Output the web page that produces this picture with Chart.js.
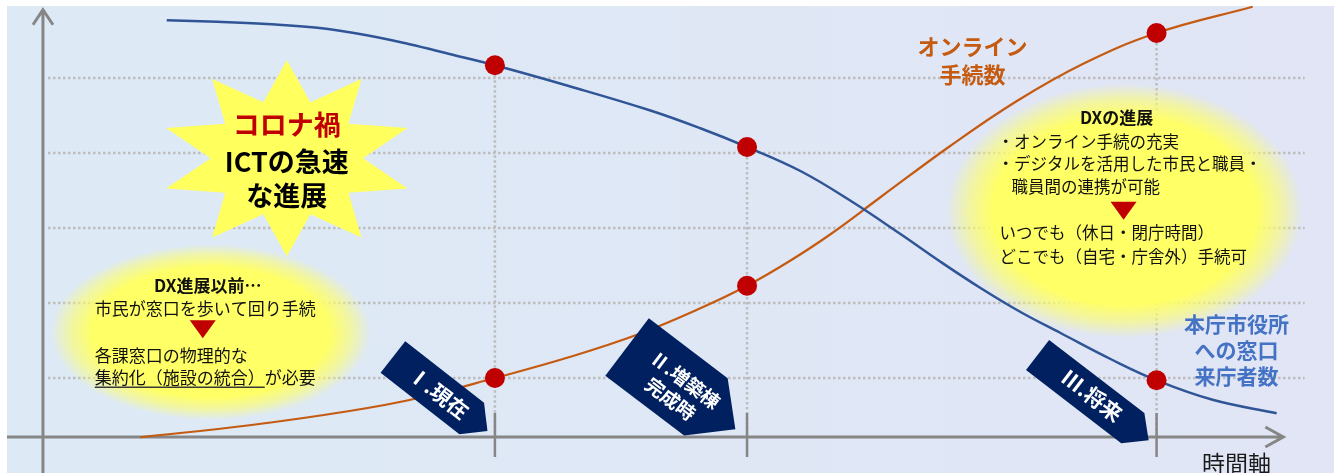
<!DOCTYPE html>
<html lang="ja">
<head>
<meta charset="utf-8">
<title>DX進展と窓口来庁者数</title>
<script src="https://cdn.jsdelivr.net/npm/chart.js@4.4.1/dist/chart.umd.min.js"></script>
<style>
  html, body { margin: 0; padding: 0; background: #fff; }
  #wrap { width: 1334px; height: 473px; position: relative; }
</style>
</head>
<body>
<div id="wrap"><canvas id="myChart"></canvas></div>
<script>
// 本庁市役所への窓口来庁者数 (blue curve)
const visitorTime  = [12.5, 16.3, 20.0, 23.8, 27.5, 30.7, 33.7, 37.1, 42.7, 48.7, 52.5, 56.0, 60.0, 63.7, 67.5, 70.5, 73.5, 76.5, 79.5, 83.4, 86.7, 90.9, 95.7];
const visitorValue = [5.77, 5.75, 5.72, 5.67, 5.57, 5.45, 5.32, 5.17, 4.89, 4.57, 4.33, 4.08, 3.76, 3.37, 2.92, 2.55, 2.20, 1.88, 1.60, 1.24, 0.97, 0.71, 0.53];

// オンライン手続数 (orange curve)
const onlineTime  = [10.5, 18.7, 26.2, 31.3, 37.1, 42.7, 47.8, 52.5, 56.0, 59.2, 62.2, 66.0, 71.2, 76.2, 81.2, 86.7, 93.9];
const onlineValue = [0.21, 0.37, 0.56, 0.73, 1.00, 1.28, 1.58, 1.93, 2.23, 2.56, 2.91, 3.41, 4.09, 4.69, 5.19, 5.60, 5.95];

// milestones on the time axis
const stageTime    = [37.1, 56.0, 86.7];
const stageVisitor = [5.17, 4.08, 0.97];
const stageOnline  = [1.00, 2.23, 5.60];
const stageLabels  = [["Ⅰ.現在"], ["Ⅱ.増築棟", "完成時"], ["Ⅲ.将来"]];

const gridValues = [1, 2, 3, 4, 5];
const axisTitle = "時間軸";

const FONT = '"Noto Sans CJK JP", "Noto Sans", sans-serif';

// layout of the decorations (data coords for anchors, px for sizes)
const layout = {
  axisTime: 3.22, axisValue: 0.213,
  gridFrom: 3.6, gridTo: 97.8,
  xArrowTime: 96.2, yArrowValue: 5.91,
  star: { t: 21.5, v: 3.93, rx: 127, ry: 98 },
  leftBubble: { t: 15.8, v: 1.61, rx: 160, ry: 88 },
  rightBubble: { t: 84.3, v: 3.23, rx: 178, ry: 127 },
  onlineLabel: { t: 72.9, v: 5.23 },
  visitorLabel: { t: 92.7, v: 1.37 },
  axisTitle: { t: 92.7, v: -0.14 },
  // tag arrows: back-edge centre offset from the tick foot, angle, body length, point, width
  tags: [
    { dx: -102, dy: -80, ang: 38, L: 100, p: 20, w: 40, size: 21, v: [0] },
    { dx: -120, dy: -90, ang: 37.2, L: 99, p: 37, w: 72, size: 19, v: [-9, 15] },
    { dx: -119, dy: -82, ang: 37.5, L: 120, p: 20, w: 38, size: 21, v: [-1] }
  ]
};

function toPts(xs, ys) {
  return xs.map((x, i) => ({ x: x, y: ys[i] }));
}

function glow(ctx, cx, cy, rx, ry) {
  ctx.save();
  ctx.translate(cx, cy);
  ctx.scale(rx / ry, 1);
  const g = ctx.createRadialGradient(0, 0, 0, 0, 0, ry);
  g.addColorStop(0, 'rgba(255,255,102,1)');
  g.addColorStop(0.74, 'rgba(255,255,102,1)');
  g.addColorStop(0.88, 'rgba(255,255,102,0.55)');
  g.addColorStop(1, 'rgba(255,255,102,0)');
  ctx.fillStyle = g;
  ctx.beginPath();
  ctx.arc(0, 0, ry, 0, Math.PI * 2);
  ctx.fill();
  ctx.restore();
}

function redTriangle(ctx, cx, cy) {
  ctx.fillStyle = '#C00000';
  ctx.beginPath();
  ctx.moveTo(cx - 13, cy - 9);
  ctx.lineTo(cx + 13, cy - 9);
  ctx.lineTo(cx, cy + 9);
  ctx.closePath();
  ctx.fill();
}

function dotted(ctx, x1, y1, x2, y2) {
  ctx.save();
  ctx.strokeStyle = '#BDBDBD';
  ctx.lineWidth = 2.5;
  ctx.setLineDash([2.5, 2.5]);
  ctx.beginPath();
  ctx.moveTo(x1, y1);
  ctx.lineTo(x2, y2);
  ctx.stroke();
  ctx.restore();
}

const decorPlugin = {
  id: 'decor',
  beforeDraw(chart) {
    const ctx = chart.ctx;
    const w = chart.width, h = chart.height;
    ctx.save();
    ctx.fillStyle = '#ffffff';
    ctx.fillRect(0, 0, w, h);
    const g = ctx.createLinearGradient(7, 0, w, 0);
    g.addColorStop(0, '#DDEAF6');
    g.addColorStop(1, '#E1E5F5');
    ctx.fillStyle = g;
    ctx.fillRect(7, 6, w - 7, h - 6);
    ctx.restore();
  },
  beforeDatasetsDraw(chart) {
    const ctx = chart.ctx;
    const xs = chart.scales.x, ys = chart.scales.y;
    const ox = xs.getPixelForValue(layout.axisTime);
    const oy = ys.getPixelForValue(layout.axisValue);

    // horizontal dotted grid
    gridValues.forEach(v => {
      const y = ys.getPixelForValue(v);
      dotted(ctx, xs.getPixelForValue(layout.gridFrom), y, xs.getPixelForValue(layout.gridTo), y);
    });
    // vertical dotted drop lines
    stageTime.forEach((t, i) => {
      const x = xs.getPixelForValue(t);
      const top = ys.getPixelForValue(Math.max(stageVisitor[i], stageOnline[i]));
      dotted(ctx, x, top, x, oy);
    });

    // glowing bubbles
    const lb = layout.leftBubble, rb = layout.rightBubble;
    glow(ctx, xs.getPixelForValue(lb.t), ys.getPixelForValue(lb.v), lb.rx, lb.ry);
    glow(ctx, xs.getPixelForValue(rb.t), ys.getPixelForValue(rb.v), rb.rx, rb.ry);

    // starburst
    const st = layout.star;
    const sx = xs.getPixelForValue(st.t), sy = ys.getPixelForValue(st.v);
    ctx.save();
    ctx.fillStyle = '#FFFF5E';
    ctx.beginPath();
    for (let i = 0; i < 20; i++) {
      const a = -Math.PI / 2 + i * Math.PI / 10;
      const r = i % 2 === 0 ? 1 : 0.6;
      ctx.lineTo(sx + Math.cos(a) * st.rx * r, sy + Math.sin(a) * st.ry * r);
    }
    ctx.closePath();
    ctx.fill();
    ctx.restore();

    // axes
    ctx.save();
    ctx.strokeStyle = '#868686';
    ctx.lineWidth = 3;
    ctx.beginPath();
    ctx.moveTo(7, oy);
    const xEnd = xs.getPixelForValue(layout.xArrowTime);
    ctx.lineTo(xEnd, oy);
    ctx.moveTo(xEnd - 18, oy - 10);
    ctx.lineTo(xEnd, oy);
    ctx.lineTo(xEnd - 18, oy + 10);
    const yEnd = ys.getPixelForValue(layout.yArrowValue);
    ctx.moveTo(ox, chart.height);
    ctx.lineTo(ox, yEnd);
    ctx.moveTo(ox - 10, yEnd + 15);
    ctx.lineTo(ox, yEnd);
    ctx.lineTo(ox + 10, yEnd + 15);
    ctx.stroke();
    // ticks
    ctx.lineWidth = 2.5;
    ctx.beginPath();
    stageTime.forEach(t => {
      const x = xs.getPixelForValue(t);
      ctx.moveTo(x, oy - 24);
      ctx.lineTo(x, oy + 20);
    });
    ctx.stroke();
    ctx.restore();
  },
  afterDatasetsDraw(chart) {
    const ctx = chart.ctx;
    const xs = chart.scales.x, ys = chart.scales.y;
    const oy = ys.getPixelForValue(layout.axisValue);
    ctx.save();
    ctx.textAlign = 'center';
    ctx.textBaseline = 'middle';

    // tag arrows
    stageTime.forEach((t, i) => {
      const tg = layout.tags[i];
      const x = xs.getPixelForValue(t) + tg.dx;
      const y = oy + tg.dy;
      ctx.save();
      ctx.translate(x, y);
      ctx.rotate(tg.ang * Math.PI / 180);
      ctx.fillStyle = '#002060';
      ctx.beginPath();
      ctx.moveTo(0, -tg.w / 2);
      ctx.lineTo(tg.L, -tg.w / 2);
      ctx.lineTo(tg.L + tg.p, 0);
      ctx.lineTo(tg.L, tg.w / 2);
      ctx.lineTo(0, tg.w / 2);
      ctx.closePath();
      ctx.fill();
      ctx.fillStyle = '#ffffff';
      ctx.font = 'bold ' + tg.size + 'px ' + FONT;
      stageLabels[i].forEach((line, k) => {
        ctx.fillText(line, (tg.L + tg.p) / 2 - 2, tg.v[k]);
      });
      ctx.restore();
    });

    // star text
    const st = layout.star;
    const sx = xs.getPixelForValue(st.t), sy = ys.getPixelForValue(st.v);
    ctx.font = 'bold 27px ' + FONT;
    ctx.fillStyle = '#C00000';
    ctx.fillText('コロナ禍', sx, sy - 34);
    ctx.fillStyle = '#000000';
    ctx.fillText('ICTの急速', sx, sy + 3);
    ctx.fillText('な進展', sx, sy + 37);

    // series labels
    const ol = layout.onlineLabel;
    ctx.font = 'bold 22px ' + FONT;
    ctx.fillStyle = '#C55A11';
    ctx.fillText('オンライン', xs.getPixelForValue(ol.t), ys.getPixelForValue(ol.v) - 14);
    ctx.fillText('手続数', xs.getPixelForValue(ol.t), ys.getPixelForValue(ol.v) + 14);
    const vl = layout.visitorLabel;
    ctx.fillStyle = '#4472C4';
    ctx.font = 'bold 21px ' + FONT;
    ['本庁市役所', 'への窓口', '来庁者数'].forEach((s, k) => {
      ctx.fillText(s, xs.getPixelForValue(vl.t), ys.getPixelForValue(vl.v) + (k - 1) * 26);
    });

    // axis title
    const at = layout.axisTitle;
    ctx.fillStyle = '#1a1a1a';
    ctx.font = '23px ' + FONT;
    ctx.fillText(axisTitle, xs.getPixelForValue(at.t), ys.getPixelForValue(at.v));

    // left bubble text
    const lb = layout.leftBubble;
    const lx = xs.getPixelForValue(lb.t), ly = ys.getPixelForValue(lb.v);
    ctx.fillStyle = '#111111';
    ctx.font = 'bold 17px ' + FONT;
    ctx.fillText('DX進展以前…', lx - 3, ly - 47);
    ctx.textAlign = 'left';
    ctx.font = '17px ' + FONT;
    ctx.fillText('市民が窓口を歩いて回り手続', lx - 116, ly - 24);
    redTriangle(ctx, lx - 8, ly - 3);
    ctx.fillStyle = '#111111';
    ctx.fillText('各課窓口の物理的な', lx - 116, ly + 23);
    const ul = '集約化（施設の統合）';
    ctx.fillText(ul, lx - 116, ly + 45);
    const ulw = ctx.measureText(ul).width;
    ctx.fillText('が必要', lx - 116 + ulw, ly + 45);
    ctx.strokeStyle = '#3a3a3a';
    ctx.lineWidth = 1.5;
    ctx.beginPath();
    ctx.moveTo(lx - 116, ly + 55);
    ctx.lineTo(lx - 116 + ulw, ly + 55);
    ctx.stroke();

    // right bubble text
    const rb = layout.rightBubble;
    const rx = xs.getPixelForValue(rb.t), ry = ys.getPixelForValue(rb.v);
    ctx.textAlign = 'center';
    ctx.font = 'bold 17px ' + FONT;
    ctx.fillText('DXの進展', rx - 8, ry - 93);
    ctx.textAlign = 'left';
    ctx.font = '16.5px ' + FONT;
    ctx.fillText('・オンライン手続の充実', rx - 127, ry - 69);
    ctx.fillText('・デジタルを活用した市民と職員・', rx - 127, ry - 47);
    ctx.fillText('職員間の連携が可能', rx - 113, ry - 24);
    redTriangle(ctx, rx - 1, ry);
    ctx.fillStyle = '#111111';
    ctx.fillText('いつでも（休日・閉庁時間）', rx - 125, ry + 22);
    ctx.fillText('どこでも（自宅・庁舎外）手続可', rx - 125, ry + 46);
    ctx.restore();
  }
};

const ctx = document.getElementById('myChart').getContext('2d');
const chart = new Chart(ctx, {
  type: 'line',
  data: {
    datasets: [
      {
        label: 'milestones',
        data: toPts(stageTime.concat(stageTime), stageVisitor.concat(stageOnline)),
        showLine: false,
        pointRadius: 10,
        pointBackgroundColor: '#C00000',
        pointBorderWidth: 0
      },
      {
        label: '本庁市役所への窓口来庁者数',
        data: toPts(visitorTime, visitorValue),
        borderColor: '#2F5597',
        borderWidth: 2.5,
        pointRadius: 0,
        tension: 0.4,
        fill: false
      },
      {
        label: 'オンライン手続数',
        data: toPts(onlineTime, onlineValue),
        borderColor: '#C55A11',
        borderWidth: 2.2,
        pointRadius: 0,
        tension: 0.4,
        fill: false
      }
    ]
  },
  options: {
    responsive: true,
    maintainAspectRatio: false,
    animation: false,
    devicePixelRatio: 1,
    layout: { autoPadding: false, padding: { top: 3, bottom: 20, left: 0, right: 0 } },
    scales: {
      x: { type: 'linear', min: 0, max: 100, display: false },
      y: { type: 'linear', min: 0, max: 6, display: false }
    },
    plugins: {
      legend: { display: false },
      tooltip: { enabled: false }
    }
  },
  plugins: [decorPlugin]
});
</script>
</body>
</html>
